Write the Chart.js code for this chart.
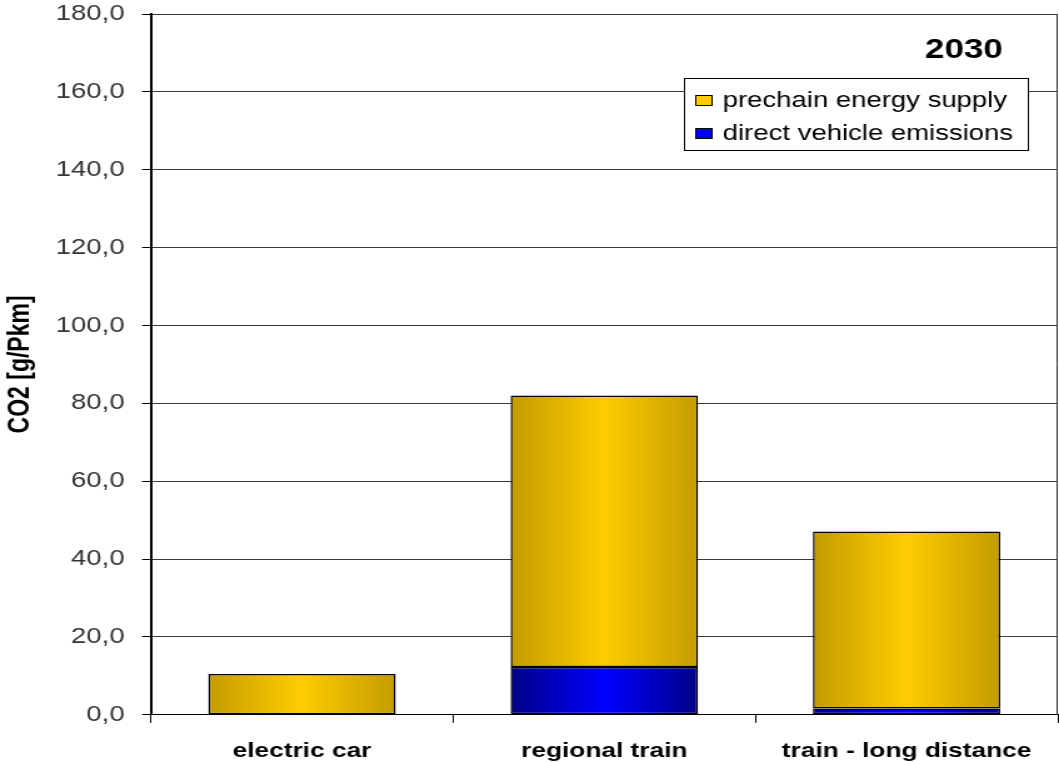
<!DOCTYPE html>
<html>
<head>
<meta charset="utf-8">
<script src="https://cdn.jsdelivr.net/npm/chart.js@4"></script>
<style>
  html, body { margin: 0; padding: 0; background: #fff; overflow: hidden; }
  #c { display: block; width: 1059px !important; height: 762px !important; }
</style>
</head>
<body>
<!-- the source picture is stretched sideways, so the canvas is drawn narrower and scaled up by css -->
<canvas id="c" width="847" height="762" style="width:1059px;height:762px"></canvas>
<script>
const categories = ['electric car', 'regional train', 'train - long distance'];
const directEmissions = [0, 12.3, 1.6];
const prechainSupply = [10.5, 69.7, 45.5];
const yTicks = [0, 20, 40, 60, 80, 100, 120, 140, 160, 180];
const yearLabel = '2030';

const BAR_PCT = 0.62;
const FONT = "'Liberation Sans', Arial, sans-serif";

// horizontal shading across each bar, dark at the edges, bright in the middle
function barShade(ctx, edge, mid) {
  const chart = ctx.chart;
  const xs = chart.scales.x;
  if (!xs || !xs.width) return mid;
  const cx = xs.getPixelForValue(ctx.dataIndex);
  const half = xs.width / categories.length * BAR_PCT / 2;
  const g = chart.ctx.createLinearGradient(cx - half, 0, cx + half, 0);
  g.addColorStop(0, edge);
  g.addColorStop(0.5, mid);
  g.addColorStop(1, edge);
  return g;
}

const swatch = ['#FFCC00', '#0000FF'];

const boxLegend = {
  id: 'boxLegend',
  afterDraw(chart) {
    const c = chart.ctx;
    const a = chart.chartArea;
    c.save();
    // right edge of the plot frame
    c.strokeStyle = '#333';
    c.lineWidth = 1;
    c.beginPath();
    c.moveTo(Math.round(a.right) - 0.5, a.top);
    c.lineTo(Math.round(a.right) - 0.5, a.bottom);
    c.stroke();

    // year label
    c.fillStyle = '#000';
    c.font = "bold 28px " + FONT;
    c.textAlign = 'center';
    c.textBaseline = 'alphabetic';
    c.fillText(yearLabel, 771, 58);

    // legend box, prechain listed first
    c.fillStyle = '#fff';
    c.fillRect(547, 78, 275, 72);
    c.strokeStyle = '#000';
    c.lineWidth = 1;
    c.strokeRect(547.5, 78.5, 275, 72);
    const items = [chart.data.datasets[1], chart.data.datasets[0]];
    c.font = "22px " + FONT;
    c.textAlign = 'left';
    c.textBaseline = 'middle';
    items.forEach((ds, i) => {
      const y = 100 + i * 33;
      c.fillStyle = swatch[i === 0 ? 0 : 1];
      c.fillRect(556, y - 5, 13, 10);
      c.strokeStyle = '#000';
      c.strokeRect(556.5, y - 4.5, 13, 10);
      c.fillStyle = '#000';
      c.fillText(ds.label, 578, y + 1);
    });
    c.restore();
  }
};

new Chart(document.getElementById('c'), {
  type: 'bar',
  data: {
    labels: categories,
    datasets: [
      {
        label: 'direct vehicle emissions',
        data: directEmissions,
        backgroundColor: ctx => barShade(ctx, '#000088', '#0000FF'),
        borderColor: '#000',
        borderWidth: 1.5,
        borderSkipped: false
      },
      {
        label: 'prechain energy supply',
        data: prechainSupply,
        backgroundColor: ctx => barShade(ctx, '#C49C00', '#FFCC00'),
        borderColor: '#000',
        borderWidth: 1.5,
        borderSkipped: false
      }
    ]
  },
  plugins: [boxLegend],
  options: {
    responsive: false,
    devicePixelRatio: 1,
    animation: false,
    categoryPercentage: 1,
    barPercentage: BAR_PCT,
    layout: { padding: { left: -2, top: 14, right: 1, bottom: -18 } },
    plugins: {
      legend: { display: false },
      tooltip: { enabled: false }
    },
    scales: {
      x: {
        stacked: true,
        offset: true,
        grid: {
          offset: true,
          drawOnChartArea: false,
          drawTicks: true,
          tickLength: 8,
          color: '#000'
        },
        border: { color: '#000', width: 1 },
        ticks: {
          color: '#000',
          padding: 16,
          font: { family: FONT, size: 21, weight: 'bold' }
        }
      },
      y: {
        stacked: true,
        min: 0,
        max: 180,
        afterBuildTicks: axis => { axis.ticks = yTicks.map(v => ({ value: v })); },
        // let the top and bottom tick labels hang past the plot area
        afterFit: axis => { axis.paddingTop = 0; axis.paddingBottom = 0; },
        grid: {
          color: '#3a3a3a',
          lineWidth: 1,
          drawTicks: true,
          tickLength: 7,
          tickColor: '#000'
        },
        border: { color: '#000', width: 2 },
        ticks: {
          color: '#333',
          padding: 14,
          font: { family: FONT, size: 22 },
          callback: v => v.toFixed(1).replace('.', ',')
        },
        title: {
          display: true,
          text: 'CO2 [g/Pkm]',
          color: '#000',
          padding: { top: 5, bottom: 0 },
          font: { family: FONT, size: 23, weight: 'bold' }
        }
      }
    }
  }
});
</script>
</body>
</html>
